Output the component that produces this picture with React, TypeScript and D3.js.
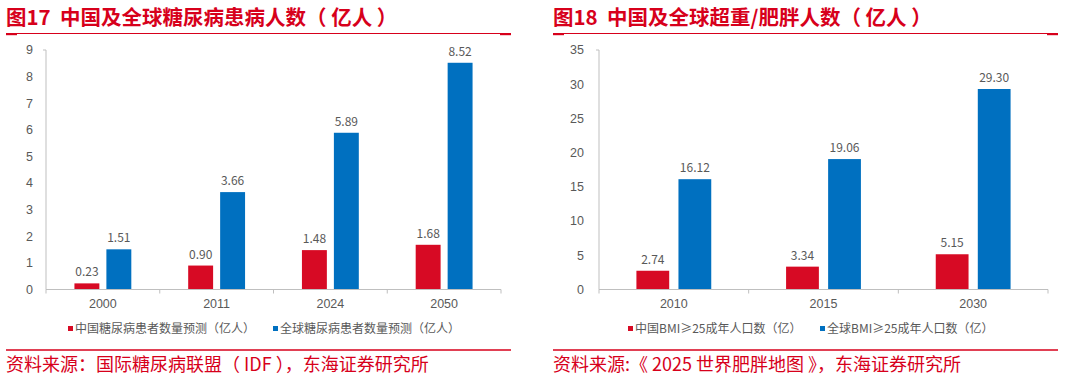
import React from "react";
import * as d3 from "d3";

// ---------- data ----------
const leftCategories = ["2000", "2011", "2024", "2050"];
const leftChina = [0.23, 0.9, 1.48, 1.68];
const leftGlobal = [1.51, 3.66, 5.89, 8.52];
const leftTicks = [0, 1, 2, 3, 4, 5, 6, 7, 8, 9];
const leftSeriesNames = ["中国糖尿病患者数量预测（亿人）", "全球糖尿病患者数量预测（亿人）"];
const leftTitle = "图17  中国及全球糖尿病患病人数（ 亿人 ）";
const leftSource = "资料来源：国际糖尿病联盟（ IDF ），东海证券研究所";

const rightCategories = ["2010", "2015", "2030"];
const rightChina = [2.74, 3.34, 5.15];
const rightGlobal = [16.12, 19.06, 29.3];
const rightTicks = [0, 5, 10, 15, 20, 25, 30, 35];
const rightSeriesNames = ["中国BMI≥25成年人口数（亿）", "全球BMI≥25成年人口数（亿）"];
const rightTitle = "图18  中国及全球超重/肥胖人数（ 亿人 ）";
const rightSource = "资料来源:《 2025 世界肥胖地图 》，东海证券研究所";

const RED = "#D70A24";
const BLUE = "#0070C0";
const TEXT_RED = "#D7001B";
const GRAY = "#595959";
const AXIS = "#BFBFBF";
const CJK = "'Noto Sans CJK SC', 'Noto Sans', sans-serif";
const NUM = "'Liberation Sans', Arial, sans-serif";

type PanelProps = {
  x0: number;
  x1: number;
  axisX: number;
  axisEnd: number;
  yMax: number;
  ticks: number[];
  categories: string[];
  china: number[];
  global: number[];
  names: string[];
  title: string;
  source: string;
  tickOffset: number;
  legendX: [number, number];
};

function Panel(p: PanelProps) {
  const yTop = 50;
  const yBottom = 289.5;
  const x = d3.scaleBand<string>().domain(p.categories).range([p.axisX, p.axisEnd]).padding(0);
  const y = d3.scaleLinear().domain([0, p.yMax]).range([yBottom, yTop]);
  const bw = x.bandwidth();
  const inner = d3.scaleBand<string>().domain(["china", "global"]).range([-bw / 4, bw / 4]).paddingInner(0.22);
  const fmt = d3.format(".2f");
  const series = [
    { key: "china", values: p.china, color: RED },
    { key: "global", values: p.global, color: BLUE },
  ];
  const boundaries = p.categories.map((c) => x(c)!).concat([p.axisEnd]);
  return (
    <g>
      {/* title */}
      <text
        x={p.x0}
        y={24.5}
        fill={TEXT_RED}
        fontFamily={CJK}
        fontWeight={700}
        fontSize={20.5}
        xmlSpace="preserve"
        style={{ whiteSpace: "pre" }}
      >
        {p.title}
      </text>
      <line x1={p.x0} x2={p.x1} y1={33.5} y2={33.5} stroke={TEXT_RED} strokeWidth={1.2} />
      <rect x={p.x0} y={33} width={11} height={2.2} fill={TEXT_RED} />
      <rect x={p.x1 - 11} y={33} width={11} height={2.2} fill={TEXT_RED} />

      {/* y axis */}
      <line x1={p.axisX} x2={p.axisX} y1={yTop} y2={yBottom} stroke={AXIS} strokeWidth={1} />
      <line x1={p.axisX - 3} x2={p.axisX} y1={yTop} y2={yTop} stroke={AXIS} strokeWidth={1} />
      {p.ticks.map((t) => (
        <text
          key={t}
          x={p.axisX - p.tickOffset}
          y={y(t)}
          dy="0.35em"
          textAnchor="end"
          fill={GRAY}
          fontFamily={NUM}
          fontSize={12.5}
        >
          {t}
        </text>
      ))}

      {/* bars */}
      {series.map((s) =>
        p.categories.map((c, i) => {
          const cx = x(c)! + bw / 2 + inner(s.key)!;
          const v = s.values[i];
          return (
            <g key={s.key + c}>
              <rect x={cx} y={y(v)} width={inner.bandwidth()} height={yBottom - y(v)} fill={s.color} />
              <text
                x={cx + inner.bandwidth() / 2}
                y={y(v) - 7}
                textAnchor="middle"
                fill={GRAY}
                fontFamily={CJK}
                fontSize={12}
              >
                {fmt(v)}
              </text>
            </g>
          );
        })
      )}

      {/* x axis */}
      <line x1={p.axisX} x2={p.axisEnd} y1={yBottom} y2={yBottom} stroke={AXIS} strokeWidth={1} />
      {boundaries.map((b, i) => (
        <line key={i} x1={b} x2={b} y1={yBottom} y2={yBottom + 4} stroke={AXIS} strokeWidth={1} />
      ))}
      {p.categories.map((c) => (
        <text
          key={c}
          x={x(c)! + bw / 2}
          y={308}
          textAnchor="middle"
          fill={GRAY}
          fontFamily={NUM}
          fontSize={12.5}
        >
          {c}
        </text>
      ))}

      {/* legend */}
      {series.map((s, i) => (
        <g key={s.key}>
          <rect x={p.legendX[i]} y={326} width={5} height={5} fill={s.color} />
          <text x={p.legendX[i] + 7} y={333} fill={GRAY} fontFamily={CJK} fontSize={12}>
            {p.names[i]}
          </text>
        </g>
      ))}

      {/* source */}
      <line x1={p.x0} x2={p.x1} y1={350} y2={350} stroke={TEXT_RED} strokeWidth={1.5} />
      <text
        x={p.x0}
        y={371}
        fill={TEXT_RED}
        fontFamily={CJK}
        fontSize={18}
        xmlSpace="preserve"
        style={{ whiteSpace: "pre" }}
      >
        {p.source}
      </text>
    </g>
  );
}

export default function App() {
  return (
    <svg
      width={1080}
      height={380}
      style={{ position: "absolute", left: 0, top: 0, background: "#fff" }}
    >
      <rect width={1080} height={380} fill="#fff" />
      <Panel
        x0={6}
        x1={511}
        axisX={46}
        axisEnd={501}
        yMax={9}
        ticks={leftTicks}
        categories={leftCategories}
        china={leftChina}
        global={leftGlobal}
        names={leftSeriesNames}
        title={leftTitle}
        source={leftSource}
        tickOffset={13}
        legendX={[68, 273]}
      />
      <Panel
        x0={553}
        x1={1058}
        axisX={599}
        axisEnd={1048}
        yMax={35}
        ticks={rightTicks}
        categories={rightCategories}
        china={rightChina}
        global={rightGlobal}
        names={rightSeriesNames}
        title={rightTitle}
        source={rightSource}
        tickOffset={15}
        legendX={[628, 820]}
      />
    </svg>
  );
}
